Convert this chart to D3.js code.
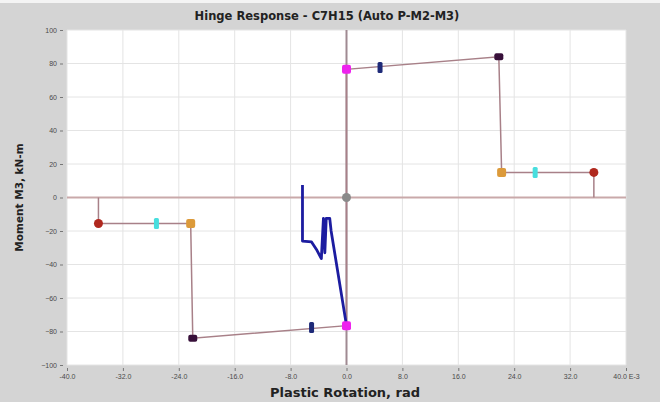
<!DOCTYPE html>
<html>
<head>
<meta charset="utf-8">
<script src="https://cdn.jsdelivr.net/npm/d3@7"></script>
<style>
  body { margin: 0; background: #d4d4d4; }
  svg { display: block; font-family: "DejaVu Sans", Verdana, sans-serif; }
  .tick text { font-size: 7px; fill: #4a4a4a; }
  .axis path { display: none; }
  .axis line { stroke: #777; }
  .axis-label { font-weight: bold; fill: #222; }
</style>
</head>
<body>
<div id="chart"></div>
<script>
// Hinge backbone curve (rotation E-3 rad, moment kN-m)
const backboneX = [-35.5, -35.5, -22.3, -22.0, 0, 0, 0, 21.8, 22.2, 35.4, 35.4];
const backboneY = [0, -15.5, -15.5, -84, -76.5, 0, 76.5, 84, 15, 15, 0];

// Hinge response history
const responseX = [-6.3, -6.3, -5.0, -4.3, -3.6, -3.3, -3.1, -2.9, -2.4, -2.2, 0];
const responseY = [7.5, -26, -26.5, -31, -36.5, -12.5, -33, -12.5, -12.5, -20, -76.5];

// Backbone points: A, B, C, D, E and their negatives
const pointX = [0, 0, 21.8, 22.2, 35.4, 0, -22.0, -22.3, -35.5];
const pointY = [0, 76.5, 84, 15, 15, -76.5, -84, -15.5, -15.5];
const pointKind = ['A', 'B', 'C', 'D', 'E', 'B', 'C', 'D', 'E'];

// Acceptance markers (IO, LS/CP)
const markX = [4.8, -5.0, 27.0, -27.2];
const markY = [77.6, -77.6, 15, -15.5];
const markKind = ['IO', 'IO', 'CP', 'CP'];

const xTicks = [-40, -32, -24, -16, -8, 0, 8, 16, 24, 32, 40];
const yTicks = [100, 80, 60, 40, 20, 0, -20, -40, -60, -80, -100];

const W = 660, H = 402;
const margin = { top: 30, right: 34, bottom: 37, left: 67 };
const width = W - margin.left - margin.right;
const height = H - margin.top - margin.bottom;

const svg = d3.select('#chart').append('svg')
  .attr('width', W)
  .attr('height', H);

svg.append('rect').attr('width', W).attr('height', H).attr('fill', '#d4d4d4');
svg.append('rect').attr('width', W).attr('height', 3).attr('fill', '#f4f4f4');

const g = svg.append('g')
  .attr('transform', `translate(${margin.left},${margin.top})`);

const x = d3.scaleLinear().domain([-40, 40]).range([0, width]);
const y = d3.scaleLinear().domain([-100, 100]).range([height, 0]);

g.append('rect').attr('width', width).attr('height', height).attr('fill', '#fff');

// grid
g.selectAll('.vgrid').data(xTicks).join('line')
  .attr('x1', d => x(d)).attr('x2', d => x(d))
  .attr('y1', 0).attr('y2', height)
  .attr('stroke', '#e4e4e4');
g.selectAll('.hgrid').data(yTicks).join('line')
  .attr('y1', d => y(d)).attr('y2', d => y(d))
  .attr('x1', 0).attr('x2', width)
  .attr('stroke', '#e4e4e4');

// zero lines
g.append('line').attr('x1', 0).attr('x2', width).attr('y1', y(0)).attr('y2', y(0))
  .attr('stroke', '#c9a9aa').attr('stroke-width', 2);
g.append('line').attr('x1', x(0)).attr('x2', x(0)).attr('y1', 0).attr('y2', height)
  .attr('stroke', '#a08a92').attr('stroke-width', 2);

// axes
const fmtX = d => d === 40 ? '40.0 E-3' : d.toFixed(1);
g.append('g').attr('class', 'axis')
  .attr('transform', `translate(0,${height + 3})`)
  .call(d3.axisBottom(x).tickValues(xTicks).tickSize(3).tickPadding(3).tickFormat(fmtX));
g.append('g').attr('class', 'axis')
  .attr('transform', 'translate(-4,0)')
  .call(d3.axisLeft(y).tickValues(yTicks).tickSize(3).tickPadding(3));

// backbone
const backbone = backboneX.map((d, i) => [d, backboneY[i]]);
const line = d3.line().x(d => x(d[0])).y(d => y(d[1]));
g.append('path').datum(backbone)
  .attr('d', line)
  .attr('fill', 'none')
  .attr('stroke', '#a88088')
  .attr('stroke-width', 1.5);

// response
const response = responseX.map((d, i) => [d, responseY[i]]);
g.append('path').datum(response)
  .attr('d', line)
  .attr('fill', 'none')
  .attr('stroke', '#1c1ca0')
  .attr('stroke-width', 2.8)
  .attr('stroke-linejoin', 'round');

// acceptance markers
const markColor = { IO: '#1e2a78', CP: '#48dede' };
g.selectAll('.mark').data(markX).join('rect')
  .attr('x', d => x(d) - 2.5)
  .attr('y', (d, i) => y(markY[i]) - 5.5)
  .attr('width', 5).attr('height', 11).attr('rx', 1.5)
  .attr('fill', (d, i) => markColor[markKind[i]]);

// backbone points
const pointColor = { A: '#8a8a8a', B: '#ee22ee', C: '#38103a', D: '#dc9a3a', E: '#b0281e' };
g.selectAll('.pt').data(pointX).join('rect')
  .attr('x', d => x(d) - 4.5)
  .attr('y', (d, i) => y(pointY[i]) - (pointKind[i] === 'C' ? 3.5 : 4.5))
  .attr('width', 9)
  .attr('height', (d, i) => pointKind[i] === 'C' ? 7 : 9)
  .attr('rx', (d, i) => (pointKind[i] === 'A' || pointKind[i] === 'E') ? 4.5 : 2)
  .attr('fill', (d, i) => pointColor[pointKind[i]]);

// title and labels
svg.append('text').attr('class', 'axis-label')
  .attr('x', 327).attr('y', 20).attr('text-anchor', 'middle')
  .style('font-size', '11.5px')
  .text('Hinge Response - C7H15 (Auto P-M2-M3)');
svg.append('text').attr('class', 'axis-label')
  .attr('x', 345).attr('y', 397).attr('text-anchor', 'middle')
  .style('font-size', '13px')
  .text('Plastic Rotation, rad');
svg.append('text').attr('class', 'axis-label')
  .attr('transform', 'rotate(-90)')
  .attr('x', -(margin.top + height / 2)).attr('y', 23)
  .attr('text-anchor', 'middle')
  .style('font-size', '10.5px')
  .text('Moment M3, kN-m');
</script>
</body>
</html>
